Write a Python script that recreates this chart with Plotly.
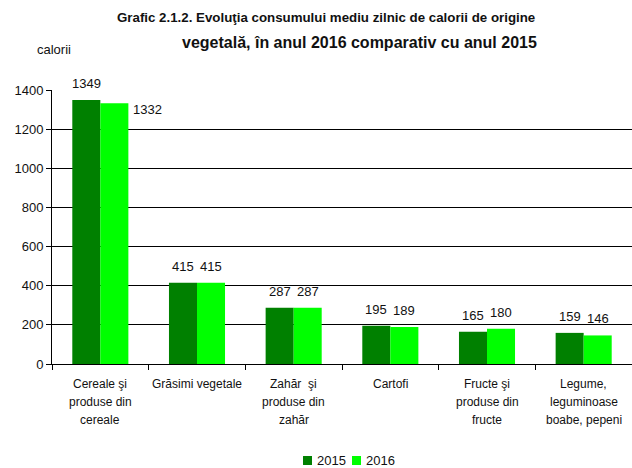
import plotly.graph_objects as go

categories = [
    "Cereale şi produse din cereale",
    "Grăsimi vegetale",
    "Zahăr  şi produse din zahăr",
    "Cartofi",
    "Fructe şi produse din fructe",
    "Legume, leguminoase boabe, pepeni",
]
category_lines = [
    ["Cereale şi", "produse din", "cereale"],
    ["Grăsimi vegetale"],
    ["Zahăr  şi", "produse din", "zahăr"],
    ["Cartofi"],
    ["Fructe şi", "produse din", "fructe"],
    ["Legume,", "leguminoase", "boabe, pepeni"],
]
values_2015 = [1349, 415, 287, 195, 165, 159]
values_2016 = [1332, 415, 287, 189, 180, 146]
series_names = ["2015", "2016"]
colors = ["#008000", "#00FF00"]

FONT = "Liberation Sans, Arial, sans-serif"
TXT = "#111111"

fig = go.Figure()
for name, vals, col in zip(series_names, [values_2015, values_2016], colors):
    fig.add_trace(go.Bar(x=categories, y=vals, name=name,
                         marker=dict(color=col, line=dict(width=0))))

annotations = []
# value labels
for i, cat in enumerate(categories):
    for j, vals in enumerate([values_2015, values_2016]):
        v = vals[i]
        if v > 1300 and j == 1:
            annotations.append(dict(x=cat, y=v, xref="x", yref="y", text=str(v), showarrow=False,
                                    xanchor="left", yanchor="middle", xshift=31, yshift=-6,
                                    font=dict(family=FONT, size=13, color=TXT)))
        else:
            annotations.append(dict(x=cat, y=v, xref="x", yref="y", text=str(v), showarrow=False,
                                    xanchor="center", yanchor="bottom",
                                    xshift=-14 if j == 0 else 14, yshift=7,
                                    font=dict(family=FONT, size=13, color=TXT)))

# category labels (multi-line with wider spacing)
for cat, lines in zip(categories, category_lines):
    for k, line in enumerate(lines):
        annotations.append(dict(x=cat, y=0, xref="x", yref="y", text=line, showarrow=False,
                                xanchor="center", yanchor="middle", yshift=-20 - 18 * k,
                                font=dict(family=FONT, size=12, color=TXT)))

# title lines
annotations.append(dict(text="<b>Grafic 2.1.2. Evoluţia consumului mediu zilnic de calorii de origine</b>",
                        x=0.5, y=1.263, xref="paper", yref="paper", showarrow=False,
                        xanchor="center", yanchor="middle", xshift=-16,
                        font=dict(family=FONT, size=13.3, color=TXT)))
annotations.append(dict(text="<b>vegetală, în anul 2016 comparativ cu anul 2015</b>",
                        x=0.5, y=1.175, xref="paper", yref="paper", showarrow=False,
                        xanchor="center", yanchor="middle", xshift=17,
                        font=dict(family=FONT, size=16, color=TXT)))
# axis unit
annotations.append(dict(text="calorii", x=-0.03, y=1.146, xref="paper", yref="paper", showarrow=False,
                        xanchor="left", yanchor="middle", font=dict(family=FONT, size=13, color=TXT)))

# legend (swatches as shapes, names as text)
legend_items = [(0.4328, 0.4483, 0.4534), (0.5172, 0.5328, 0.5379)]
shapes = []
for (x0, x1, xt), name, col in zip(legend_items, series_names, colors):
    shapes.append(dict(type="rect", xref="paper", yref="paper", x0=x0, x1=x1, y0=-0.3686, y1=-0.3358,
                       fillcolor=col, line=dict(width=0)))
    annotations.append(dict(text=name, x=xt, y=-0.352, xref="paper", yref="paper", showarrow=False,
                            xanchor="left", yanchor="middle", font=dict(family=FONT, size=13, color=TXT)))

fig.update_layout(
    width=632, height=468,
    margin=dict(l=52, r=0, t=90, b=104, autoexpand=False),
    paper_bgcolor="white", plot_bgcolor="white",
    barmode="group", bargap=0.42, bargroupgap=0,
    showlegend=False,
    annotations=annotations,
    shapes=shapes,
    font=dict(family=FONT, size=12, color=TXT),
)
fig.update_yaxes(range=[0, 1400], dtick=200, showgrid=True, gridcolor="#000", gridwidth=1,
                 showline=True, linecolor="#000", linewidth=1, ticks="outside", ticklen=5,
                 tickcolor="#000", zeroline=False, automargin=False,
                 tickfont=dict(family=FONT, size=13, color=TXT))
fig.update_xaxes(showline=True, linecolor="#000", linewidth=1, ticks="outside", ticklen=5,
                 tickcolor="#000", tickson="boundaries", showgrid=False, showticklabels=False,
                 automargin=False)

fig.write_html("out.html", config={"displayModeBar": False},
               post_script="document.body.style.margin='0';document.body.style.padding='0';")
